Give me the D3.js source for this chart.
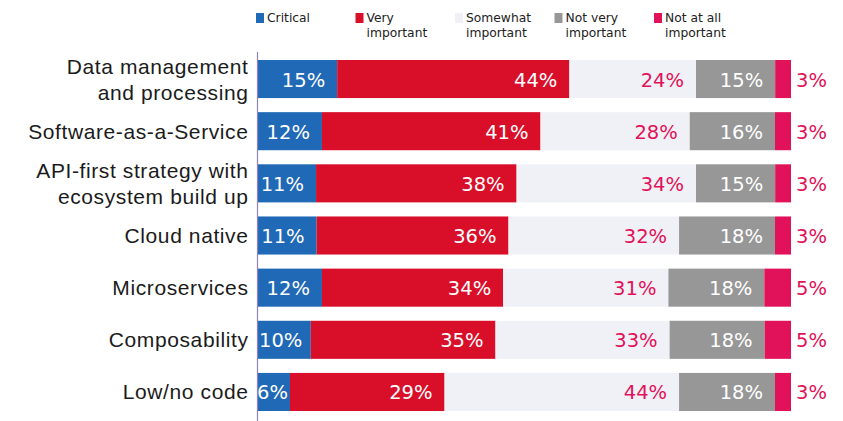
<!DOCTYPE html>
<html>
<head>
<meta charset="utf-8">
<script src="https://cdn.jsdelivr.net/npm/d3@7"></script>
<style>
  html, body { margin: 0; padding: 0; background: #ffffff; }
  svg { display: block; font-family: "DejaVu Sans", "Noto Sans", sans-serif; }
</style>
</head>
<body>
<svg id="chart" width="843" height="421"></svg>
<script>
// Importance ratings (%) per technology approach
const categories = [
  "Data management\nand processing",
  "Software-as-a-Service",
  "API-first strategy with\necosystem build up",
  "Cloud native",
  "Microservices",
  "Composability",
  "Low/no code"
];
const critical      = [15, 12, 11, 11, 12, 10, 6];
const veryImportant = [44, 41, 38, 36, 34, 35, 29];
const somewhat      = [24, 28, 34, 32, 31, 33, 44];
const notVery       = [15, 16, 15, 18, 18, 18, 18];
const notAtAll      = [3, 3, 3, 3, 5, 5, 3];

const seriesKeys   = ["critical", "very", "somewhat", "notVery", "notAtAll"];
const seriesLabels = ["Critical", "Very\nimportant", "Somewhat\nimportant", "Not very\nimportant", "Not at all\nimportant"];
const seriesColors = ["#1f69b6", "#d90f2a", "#f0f1f6", "#979797", "#e1125a"];
const labelColors  = ["#ffffff", "#ffffff", "#e1125a", "#ffffff", "#e1125a"];

const rows = categories.map((c, i) => ({
  category: c,
  critical: critical[i],
  very: veryImportant[i],
  somewhat: somewhat[i],
  notVery: notVery[i],
  notAtAll: notAtAll[i]
}));

const svg = d3.select("#chart");

// each bar fills the full width (shares of the row total)
const stacked = d3.stack().keys(seriesKeys).offset(d3.stackOffsetExpand)(rows);

const x = d3.scaleLinear().domain([0, 1]).range([258, 791]);
const y = d3.scaleBand().domain(categories).range([60, 411]).paddingInner(0.27).paddingOuter(0);
const color = d3.scaleOrdinal().domain(seriesKeys).range(seriesColors);

// keep labels from spilling left of the bars
svg.append("defs").append("clipPath").attr("id", "plot-clip")
  .append("rect").attr("x", 258).attr("y", 0).attr("width", 585).attr("height", 421);

// bars
const layers = svg.append("g").selectAll("g")
  .data(stacked)
  .join("g")
  .attr("fill", d => color(d.key));

layers.selectAll("rect")
  .data(d => d)
  .join("rect")
  .attr("x", d => x(d[0]))
  .attr("y", d => y(d.data.category))
  .attr("width", d => x(d[1]) - x(d[0]))
  .attr("height", y.bandwidth());

// value labels: right-aligned inside each segment, or just past the last one
stacked.forEach((layer, si) => {
  const key = layer.key;
  svg.append("g")
    .attr("clip-path", "url(#plot-clip)")
    .attr("font-size", 19.5)
    .attr("fill", labelColors[si])
    .selectAll("text")
    .data(layer)
    .join("text")
    .attr("y", d => y(d.data.category) + y.bandwidth() / 2 + 7.5)
    .text(d => d.data[key] + "%")
    .each(function (d) {
      const t = d3.select(this);
      if (key === "notAtAll") {
        t.attr("text-anchor", "start").attr("x", x(d[1]) + 5);
        return;
      }
      const w = this.getComputedTextLength();
      const x0 = x(d[0]), x1 = x(d[1]);
      const end = Math.min(x1 - 2, Math.max(x1 - 12, x0 + w + 1));
      t.attr("text-anchor", "end").attr("x", end);
    });
});

// category axis
const yAxis = svg.append("g")
  .attr("transform", "translate(257.5,0)")
  .call(d3.axisLeft(y).tickSize(0).tickFormat(""));
yAxis.select(".domain").attr("d", "M0,52V421").attr("stroke", "#8f82bd").attr("stroke-width", 1.2);

yAxis.selectAll(".tick").each(function (d) {
  const lines = d.split("\n");
  const t = d3.select(this).append("text")
    .attr("fill", "#1b1b1b")
    .attr("font-size", 21)
    .attr("letter-spacing", 0.6)
    .attr("text-anchor", "end")
    .attr("x", -9);
  const lh = 26;
  const y0 = -(lines.length - 1) * lh / 2 + 7.5;
  lines.forEach((ln, i) => {
    t.append("tspan").attr("x", -9).attr("y", y0 + i * lh).text(ln);
  });
});

// legend
const legend = svg.append("g").selectAll("g")
  .data(seriesKeys)
  .join("g")
  .attr("transform", (d, i) => `translate(${256 + i * 99.5},13)`);

legend.append("rect")
  .attr("width", 8)
  .attr("height", 10)
  .attr("fill", d => color(d));

legend.append("text")
  .attr("font-size", 12.3)
  .attr("fill", "#222222")
  .each(function (d, i) {
    const t = d3.select(this);
    seriesLabels[i].split("\n").forEach((ln, j) => {
      t.append("tspan").attr("x", 11).attr("y", 9 + j * 15).text(ln);
    });
  });
</script>
</body>
</html>
